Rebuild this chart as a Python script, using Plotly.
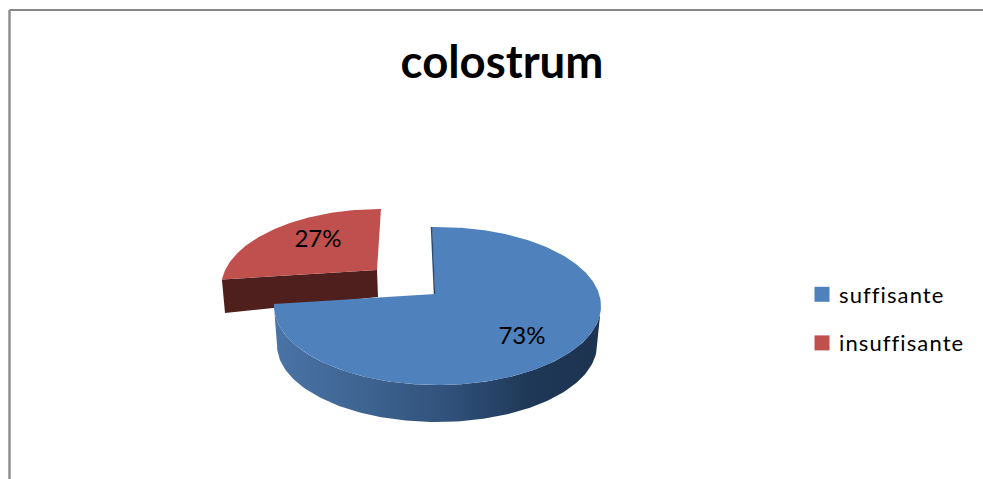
import numpy as np
import plotly.graph_objects as go

# ---- data ----
categories = ["suffisante", "insuffisante"]
values = [73, 27]
title_text = "colostrum"

# ---- styles ----
BLUE, RED = "#4f81bd", "#c0504d"
RED_WALL = "#4e1f1c"
BLUE_EDGE = "#2c4a70"
FONT = "Lato, Carlito, Calibri, sans-serif"
BLUE_WALL_SCALE = [[0, "#4a74a6"], [0.3, "#3d628f"], [0.55, "#2f5079"], [0.78, "#1f3857"], [1, "#1d3350"]]

# ---- projected geometry of the tilted discs (pixels) ----
K = 0.49
BLUE_GEOM = dict(apex=(435, 294), c=(437.5, 306), rx=163.5, ry=79, skew=-0.022)
BLUE_BASE = dict(c=(437, 345), rx=160, ry=77)
RED_GEOM = dict(apex=(377, 270), c=(381, 288), rx=160, ry=79, skew=0.032)
RED_DEPTH = dict(left=(225, 313), right=(378, 297))


def rim(frac0, frac1, g, n=120):
    """Points on the tilted rim for pie fractions frac0..frac1 (clockwise from 12 o'clock)."""
    t = 2 * np.pi * np.linspace(frac0, frac1, n)
    dx = np.sin(t) + g["skew"] * np.cos(t)
    dy = -K * np.cos(t)
    ox, oy = g["apex"][0] - g["c"][0], g["apex"][1] - g["c"][1]
    a = (dx / g["rx"]) ** 2 + (dy / g["ry"]) ** 2
    b = 2 * (ox * dx / g["rx"] ** 2 + oy * dy / g["ry"] ** 2)
    c = (ox / g["rx"]) ** 2 + (oy / g["ry"]) ** 2 - 1
    r = (-b + np.sqrt(b * b - 4 * a * c)) / (2 * a)
    return g["apex"][0] + r * dx, g["apex"][1] + r * dy


def half_ellipse(c, rx, ry, reverse=False, n=120):
    a = np.linspace(np.pi, 0, n)
    x, y = c[0] + rx * np.cos(a), c[1] + ry * np.sin(a)
    return (x[::-1], y[::-1]) if reverse else (x, y)


frac = np.array(values, dtype=float) / sum(values)
fb = frac[0]

fig = go.Figure()

# red: wall then top face
rx_, ry_ = rim(fb, 1, RED_GEOM)
fig.add_trace(go.Scatter(
    x=[RED_GEOM["apex"][0], rx_[0], RED_DEPTH["left"][0], RED_DEPTH["right"][0]],
    y=[RED_GEOM["apex"][1], ry_[0], RED_DEPTH["left"][1], RED_DEPTH["right"][1]],
    fill="toself", fillcolor=RED_WALL, mode="lines", line=dict(width=0),
    showlegend=False, hoverinfo="skip"))
fig.add_trace(go.Scatter(
    x=np.r_[RED_GEOM["apex"][0], rx_], y=np.r_[RED_GEOM["apex"][1], ry_],
    fill="toself", fillcolor=RED, mode="lines", line=dict(width=0),
    showlegend=False, hoverinfo="skip"))

# blue: outer wall with horizontal gradient
x1, y1 = half_ellipse(BLUE_GEOM["c"], BLUE_GEOM["rx"], BLUE_GEOM["ry"])
x2, y2 = half_ellipse(BLUE_BASE["c"], BLUE_BASE["rx"], BLUE_BASE["ry"], reverse=True)
fig.add_trace(go.Scatter(
    x=np.r_[x1, x2], y=np.r_[y1, y2], fill="toself", mode="lines", line=dict(width=0),
    fillgradient=dict(type="horizontal", colorscale=BLUE_WALL_SCALE),
    showlegend=False, hoverinfo="skip"))

# blue top face
bx, by = rim(0, fb, BLUE_GEOM, n=240)
fig.add_trace(go.Scatter(
    x=np.r_[BLUE_GEOM["apex"][0], bx], y=np.r_[BLUE_GEOM["apex"][1], by],
    fill="toself", fillcolor=BLUE, mode="lines", line=dict(width=0),
    showlegend=False, hoverinfo="skip"))
# thin visible inner wall on the cut edge
fig.add_trace(go.Scatter(
    x=[bx[0] - 0.5, BLUE_GEOM["apex"][0] - 0.5], y=[by[0], BLUE_GEOM["apex"][1]],
    mode="lines", line=dict(color=BLUE_EDGE, width=1.5),
    showlegend=False, hoverinfo="skip"))

# percent labels
fig.add_trace(go.Scatter(
    x=[522, 318], y=[338, 241], mode="text",
    text=[f"{v}%" for v in values], textposition="middle center",
    textfont=dict(family=FONT, size=24, color="#000000"),
    showlegend=False, hoverinfo="skip"))

# legend entries
for name, col in zip(categories, [BLUE, RED]):
    fig.add_trace(go.Scatter(
        x=[None], y=[None], mode="markers", name=name, legendgroup=name,
        marker=dict(symbol="square", size=15, color=col)))

fig.update_layout(
    width=983, height=479, autosize=False,
    margin=dict(l=0, r=0, t=0, b=0),
    paper_bgcolor="white", plot_bgcolor="white",
    title=dict(text=f"<b>{title_text}</b>", x=502 / 983, xanchor="center",
               y=1 - 62 / 479, yanchor="middle",
               font=dict(family=FONT, size=45.5, color="#000000")),
    xaxis=dict(range=[0, 983], visible=False, fixedrange=True),
    yaxis=dict(range=[479, 0], visible=False, fixedrange=True),
    legend=dict(x=802 / 983, y=1 - 273.5 / 479, xanchor="left", yanchor="top",
                traceorder="grouped", tracegroupgap=17, itemsizing="trace",
                bgcolor="rgba(0,0,0,0)",
                font=dict(family=FONT, size=22, color="#000000")),
    shapes=[
        dict(type="line", xref="paper", yref="paper", x0=9.5 / 983, x1=1, y0=1 - 10 / 479, y1=1 - 10 / 479,
             line=dict(color="#868686", width=2)),
        dict(type="line", xref="paper", yref="paper", x0=9.5 / 983, x1=9.5 / 983, y0=1 - 10 / 479, y1=0,
             line=dict(color="#8f8f8f", width=2.5)),
    ],
)

CSS = ("document.body.style.margin='0';"
       "var s=document.createElement('style');"
       "s.textContent='svg text{font-variant-ligatures:none}"
       " .legendtext{letter-spacing:1.1px;transform:translateX(-3px)}"
       " .legend .scrollbox{clip-path:none !important}';"
       "document.head.appendChild(s);")
fig.write_html("out.html", config={"displayModeBar": False}, post_script=CSS)
